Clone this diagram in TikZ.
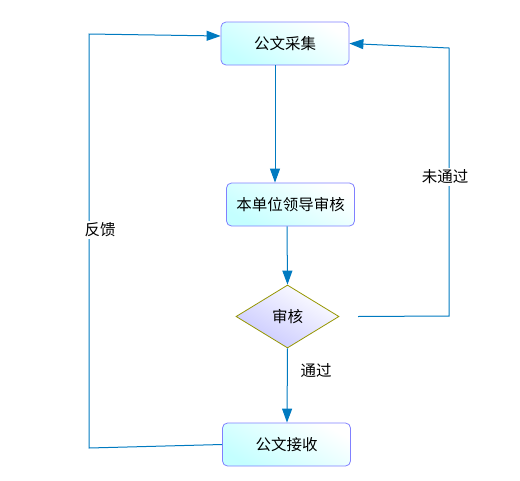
\documentclass[tikz,border=0pt]{standalone}
\usepackage{fontspec}
\setmainfont{Noto Sans CJK SC}
\usetikzlibrary{shapes.geometric,arrows.meta}
\definecolor{lineblue}{RGB}{0,122,192}
\definecolor{boxborder}{RGB}{128,128,255}
\definecolor{boxfill}{RGB}{196,255,255}
\definecolor{diaborder}{RGB}{150,150,0}
\definecolor{diafill}{RGB}{200,200,255}
\tikzset{
  txt/.style={font=\fontsize{15.5}{17}\selectfont},
  procbox/.style={txt, draw=boxborder, line width=0.8pt, rounded corners=5pt, top color=white, bottom color=boxfill, shading angle=-30, minimum width=128pt, minimum height=43pt, inner sep=0pt},
  decision/.style={txt, draw=diaborder, line width=0.8pt, diamond, aspect=1.6, top color=white, bottom color=diafill, shading angle=-30, minimum width=103pt, minimum height=63pt, inner sep=0pt},
  flow/.style={draw=lineblue, line width=1pt, -{Triangle[length=14pt,width=10pt]}},
  lbl/.style={txt, fill=white, inner sep=2pt}
}
\begin{document}
\begin{tikzpicture}[x=1pt,y=-1pt]
\useasboundingbox (0,0) rectangle (520,480);
\node[procbox] (collect) at (285,43.5) {公文采集};
\node[procbox] (review) at (290.5,204.5) {本单位领导审核};
\node[decision] (check) at (287.5,316.5) {审核};
\node[procbox] (receive) at (286.5,444.5) {公文接收};
\coordinate (r1) at (449,316);
\coordinate (r2) at (449,48);
\coordinate (l1) at (89,448);
\coordinate (l2) at (89,34);
\draw[flow] (collect.south -| 275,0) -- (review.north -| 275,0);
\draw[flow] (review.south -| 287,0) -- (check.north);
\draw[flow] (check.south) -- (receive.north -| 287,0);
\draw[flow] (check.east -| 358,0) -- (r1) -- (r2) -- (collect.east);
\draw[flow] (receive.west) -- (l1) -- (l2) -- (collect.west |- 0,36);
\node[lbl] (fail) at (445,177) {未通过};
\node[lbl] (feedback) at (100,230) {反馈};
\node[txt] (pass) at (316,371) {通过};
\end{tikzpicture}
\end{document}
